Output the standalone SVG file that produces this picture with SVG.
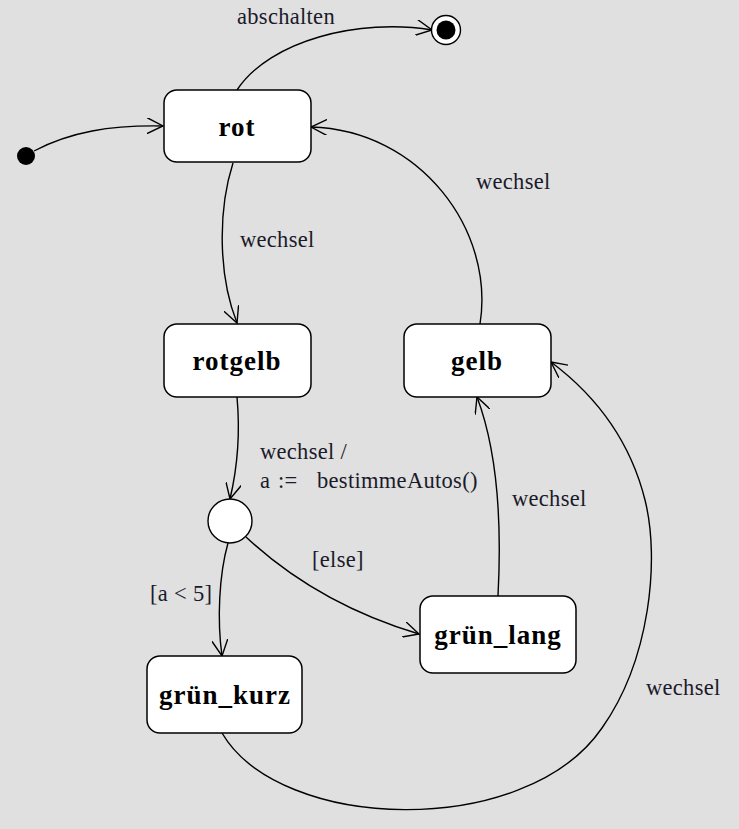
<svg xmlns="http://www.w3.org/2000/svg" width="739" height="829" viewBox="0 0 739 829">
<style>
.node{fill:#fff;stroke:#000;stroke-width:1.5}
.name{font-family:"Liberation Serif",serif;font-weight:bold;font-size:27px;text-anchor:middle;letter-spacing:1px;fill:#000}
.lbl{font-family:"Liberation Serif",serif;font-size:22.5px;letter-spacing:0.3px;fill:#1a1a2a}
.edge{fill:none;stroke:#000;stroke-width:1.4;marker-end:url(#arr)}
</style>
<defs>
<marker id="arr" markerUnits="userSpaceOnUse" viewBox="0 0 17 16" refX="16" refY="8" markerWidth="17" markerHeight="16" orient="auto">
<path d="M0,0 L16,8 L0,16" fill="none" stroke="#000" stroke-width="1.4"/>
</marker>
</defs>
<rect width="739" height="829" fill="#e0e0e0"/>
<g id="connectors">
<path class="edge" d="M34,151 C70,132 110,125 163,126"/>
<path class="edge" d="M237,90 C270,40 360,18 432,30"/>
<path class="edge" d="M233,163 C218,210 218,275 237,323"/>
<path class="edge" d="M480,324 C495,230 420,130 311,127"/>
<path class="edge" d="M237,397 C240,430 238,465 230,499"/>
<path class="edge" d="M228,543 C219,575 217,620 222,656"/>
<path class="edge" d="M246,537 C290,578 345,612 419,634"/>
<path class="edge" d="M498,596 C502,520 497,450 477,397"/>
<path class="edge" d="M222,733 C280,832 525,840 602,728 C650,660 660,560 645,500 C630,440 595,395 551,362"/>
<text class="lbl" x="237" y="24">abschalten</text>
<text class="lbl" x="240" y="247">wechsel</text>
<text class="lbl" x="476" y="189">wechsel</text>
<text class="lbl" x="260" y="459">wechsel /</text>
<text class="lbl" y="488"><tspan x="260">a</tspan><tspan x="278">:=</tspan><tspan x="317">bestimmeAutos()</tspan></text>
<text class="lbl" x="150" y="601">[a &lt; 5]</text>
<text class="lbl" x="312" y="567">[else]</text>
<text class="lbl" x="512" y="506">wechsel</text>
<text class="lbl" x="646" y="695">wechsel</text>
</g>
<g id="initial"><circle cx="26" cy="156" r="9" fill="#000"/></g>
<g id="final"><circle cx="446" cy="30" r="14.5" fill="#fff" stroke="#000" stroke-width="1.4"/><circle cx="446" cy="30" r="9.5" fill="#000"/></g>
<g id="rot"><rect class="node" x="164" y="90" width="147" height="72" rx="13"/><text class="name" x="237" y="136">rot</text></g>
<g id="rotgelb"><rect class="node" x="164" y="324" width="147" height="73" rx="13"/><text class="name" x="237" y="370">rotgelb</text></g>
<g id="gelb"><rect class="node" x="404" y="324" width="147" height="73" rx="13"/><text class="name" x="477" y="370">gelb</text></g>
<g id="choice"><circle cx="230" cy="521" r="22" fill="#fff" stroke="#000" stroke-width="1.4"/></g>
<g id="gruen_lang"><rect class="node" x="420" y="596" width="156" height="77" rx="13"/><text class="name" x="498" y="644">grün_lang</text></g>
<g id="gruen_kurz"><rect class="node" x="147" y="656" width="155" height="77" rx="13"/><text class="name" x="225" y="704">grün_kurz</text></g>
</svg>
